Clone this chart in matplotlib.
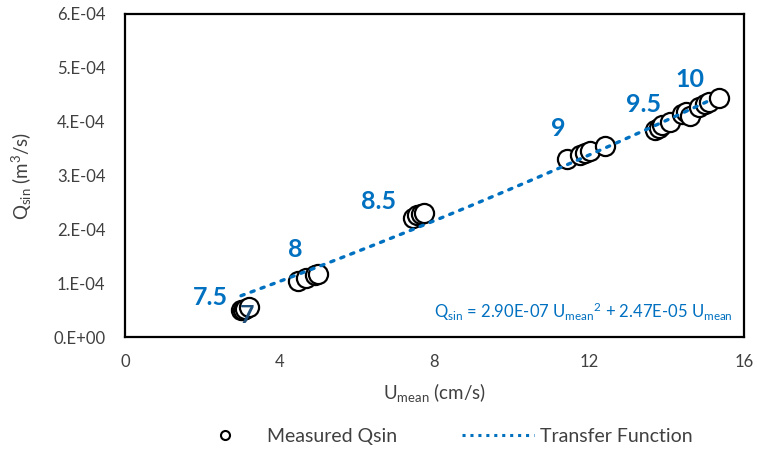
import numpy as np
import matplotlib
matplotlib.use("Agg")
import matplotlib.pyplot as plt
from matplotlib.lines import Line2D

plt.rcParams["font.family"] = ["Lato", "DejaVu Sans"]
plt.rcParams["mathtext.fontset"] = "custom"
plt.rcParams["mathtext.rm"] = "Lato"
plt.rcParams["mathtext.it"] = "Lato:italic"

# measured sediment discharge vs mean velocity
u_meas = [3.00, 3.05, 3.10, 3.20,
          4.47, 4.69, 4.90, 5.00,
          7.45, 7.55, 7.65, 7.72,
          11.42, 11.76, 11.90, 12.02, 12.41,
          13.70, 13.80, 13.89, 14.09, 14.40, 14.50, 14.59, 14.84, 15.00, 15.10, 15.36]
q_meas = [5.0e-5, 5.1e-5, 5.3e-5, 5.6e-5,
          1.04e-4, 1.10e-4, 1.15e-4, 1.18e-4,
          2.22e-4, 2.26e-4, 2.29e-4, 2.31e-4,
          3.30e-4, 3.38e-4, 3.42e-4, 3.45e-4, 3.54e-4,
          3.84e-4, 3.88e-4, 3.93e-4, 4.00e-4, 4.15e-4, 4.18e-4, 4.10e-4, 4.28e-4, 4.33e-4, 4.37e-4, 4.43e-4]

# transfer function coefficients
a_coef = 2.90e-7
b_coef = 2.47e-5
u_fit = np.linspace(3.0, 15.2, 200)
q_fit = a_coef * u_fit ** 2 + b_coef * u_fit

# run labels (text, x, y)
run_labels = [("7.5", 2.2, 0.74e-4), ("8", 4.4, 1.63e-4), ("8.5", 6.55, 2.51e-4),
              ("9", 11.2, 3.87e-4), ("9.5", 13.4, 4.32e-4), ("10", 14.6, 4.78e-4)]

blue = "#0070C0"
grey = "#404040"

fig = plt.figure(figsize=(7.57, 4.5), dpi=100)
ax = fig.add_axes([0.165, 0.251, 0.818, 0.718])

ax.scatter(u_meas, q_meas, s=190, facecolors="white", edgecolors="black",
           linewidths=1.6, zorder=2)
ax.plot(u_fit, q_fit, color=blue, linestyle=(0, (1, 2.2)), linewidth=2.4,
        dash_capstyle="round", zorder=3)

for txt, x, y in run_labels:
    ax.text(x, y, txt, color=blue, fontsize=18, fontweight="bold",
            ha="center", va="center", zorder=4)
ax.text(3.15, 0.40e-4, "7", color="#1F4E79", fontsize=18, fontweight="bold",
        ha="center", va="center", zorder=4)

ax.text(15.7, 0.47e-4,
        r"Q$_{\rm sin}$ = 2.90E-07 U$_{\rm mean}$$^{\rm 2}$ + 2.47E-05 U$_{\rm mean}$",
        color=blue, fontsize=12, ha="right", va="center")

ax.set_xlim(0, 16)
ax.set_ylim(0, 6e-4)
ax.set_xticks([0, 4, 8, 12, 16])
ax.set_yticks(np.arange(0, 7e-4, 1e-4))
ax.set_yticklabels(["0.E+00", "1.E-04", "2.E-04", "3.E-04", "4.E-04", "5.E-04", "6.E-04"])
ax.tick_params(length=0, labelsize=12, colors=grey, pad=12)
ax.tick_params(axis="y", pad=14)
for sp in ax.spines.values():
    sp.set_linewidth(1.6)
    sp.set_color("black")

ax.set_xlabel(r"U$_{\rm mean}$ (cm/s)", fontsize=13.5, color=grey, labelpad=8)
ax.set_ylabel(r"Q$_{\rm sin}$ (m$^{\rm 3}$/s)", fontsize=13.5, color=grey, labelpad=14)

handles = [Line2D([], [], marker="o", linestyle="none", markerfacecolor="white",
                  markeredgecolor="black", markersize=6.5, markeredgewidth=1.5),
           Line2D([], [], color=blue, linestyle=(0, (1, 1.6)), linewidth=2.2)]
leg = fig.legend(handles, ["Measured Qsin", "Transfer Function"], loc="center",
                 bbox_to_anchor=(0.582, 0.031), ncol=2, frameon=False, fontsize=14,
                 handlelength=3.7, handletextpad=0.3, columnspacing=3.35)
for t in leg.get_texts():
    t.set_color(grey)

fig.savefig("out.png", dpi=100)
